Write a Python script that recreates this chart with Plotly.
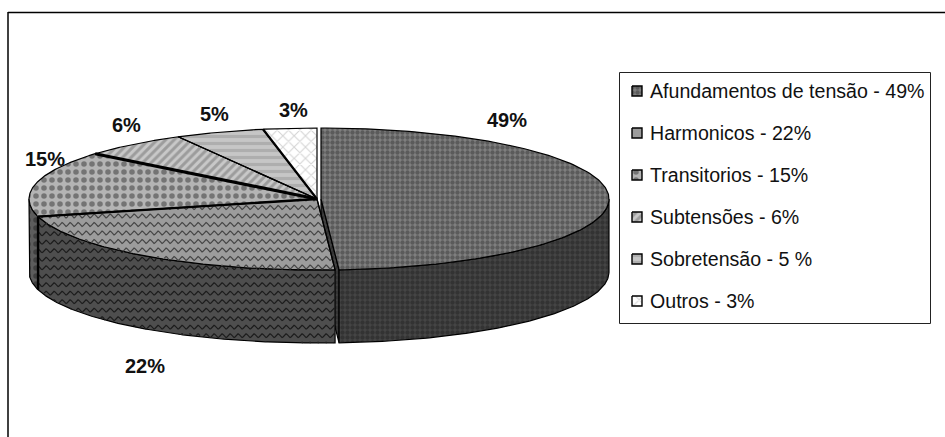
"""Exploded 3D style pie of power quality disturbances, drawn on pixel-like axes."""
import numpy as np
import plotly.graph_objects as go

categories = ["Afundamentos de tensão - 49%", "Harmonicos - 22%", "Transitorios - 15%",
              "Subtensões - 6%", "Sobretensão - 5 %", "Outros - 3%"]
values = [49, 22, 15, 6, 5, 3]
pct_labels = ["49%", "22%", "15%", "6%", "5%", "3%"]

# where Excel left the percentage labels
label_x = [507, 145, 45, 126, 214, 293]
label_y = [120, 366, 159, 125, 114, 110]

# pie geometry
CX, CY = 317, 199
RX, RY = 288, 71
DEPTH = 73
EXPLODE = 4

WIDTH, HEIGHT = 945, 437

# top face pattern, side face colours
top_styles = [
    dict(shape=".", bgcolor="#808080", fgcolor="#363636", size=5, solidity=0.6),
    dict(shape="", bgcolor="#9c9c9c", fgcolor="#9c9c9c"),
    dict(shape=".", bgcolor="#b4b4b4", fgcolor="#333333", size=8, solidity=0.38),
    dict(shape="/", bgcolor="#c8c8c8", fgcolor="#707070", size=6, solidity=0.5),
    dict(shape="-", bgcolor="#c6c6c6", fgcolor="#969696", size=7, solidity=0.45),
    dict(shape="x", bgcolor="#ffffff", fgcolor="#a8a8a8", size=8, solidity=0.25),
]
side_styles = [
    dict(shape=".", bgcolor="#454545", fgcolor="#222222", size=5, solidity=0.6),
    dict(shape="", bgcolor="#4e4e4e", fgcolor="#4e4e4e"),
    dict(shape=".", bgcolor="#5c5c5c", fgcolor="#222222", size=8, solidity=0.38),
]
# spoke widths between neighbouring slices, starting at the 49/22 edge
spoke_widths = [1.2, 2.4, 3.2, 1.2, 2.2]


def rim(t0, t1, dx=0, dy=0):
    t = np.radians(np.linspace(t0, t1, 160))
    return CX + dx + RX * np.sin(t), CY + dy - RY * np.cos(t)


def points_in_poly(px, py, xs, ys):
    x1, y1 = np.roll(xs, -1), np.roll(ys, -1)
    hits = np.zeros(len(px), dtype=int)
    for a, b, c, d in zip(xs, ys, x1, y1):
        if b == d:
            continue
        crosses = (b > py) != (d > py)
        hits += crosses & (px < a + (py - b) * (c - a) / (d - b))
    return hits % 2 == 1


def wave_texture(xs, ys, spacing=8.5, period=8.0, amp=1.9):
    """Wavy hatch lines clipped to a polygon, with gaps outside it."""
    out_x, out_y = [], []
    grid_x = np.arange(xs.min(), xs.max() + 1, 1.0)
    for row in np.arange(ys.min(), ys.max() + spacing, spacing):
        wy = row + amp * np.sin(2 * np.pi * grid_x / period)
        inside = points_in_poly(grid_x, wy, xs, ys)
        out_x.extend(np.where(inside, grid_x, np.nan).tolist() + [None])
        out_y.extend(np.where(inside, wy, np.nan).tolist() + [None])
    return out_x, out_y


def add_poly(fig, xs, ys, pattern, line_width=1.2):
    fig.add_trace(go.Scatter(x=xs, y=ys, mode="lines", fill="toself", fillcolor=pattern["bgcolor"],
                             fillpattern=pattern, line=dict(color="black", width=line_width),
                             hoverinfo="skip", showlegend=False))


def add_waves(fig, xs, ys, color):
    tx, ty = wave_texture(xs, ys)
    fig.add_trace(go.Scatter(x=tx, y=ty, mode="lines", line=dict(color=color, width=1.2),
                             hoverinfo="skip", showlegend=False))


fig = go.Figure()

edges = np.concatenate([[0], np.cumsum(values)]) * 3.6

# side walls first, only what faces the viewer
for i in range(3):
    dx = EXPLODE if i == 0 else 0
    t0, t1 = max(edges[i], 90), min(edges[i + 1], 270)
    x_top, y_top = rim(t0, t1, dx)
    x_bot, y_bot = rim(t1, t0, dx, DEPTH)
    xs = np.concatenate([x_top, x_bot, x_top[:1]])
    ys = np.concatenate([y_top, y_bot, y_top[:1]])
    if i == 0:
        # cut face of the pulled out slice shows through the gap
        x_end, y_end = rim(t1, t1, dx)
        add_poly(fig, [CX + dx, x_end[0], x_end[0], CX + dx, CX + dx],
                 [CY, y_end[0], y_end[0] + DEPTH, CY + DEPTH, CY], side_styles[0])
    add_poly(fig, xs, ys, side_styles[i])
    if i == 1:
        add_waves(fig, xs, ys, "#1c1c1c")

# top faces
for i, style in enumerate(top_styles):
    dx = EXPLODE if i == 0 else 0
    x_rim, y_rim = rim(edges[i], edges[i + 1], dx)
    xs = np.concatenate([[CX + dx], x_rim, [CX + dx]])
    ys = np.concatenate([[CY], y_rim, [CY]])
    add_poly(fig, xs, ys, style)
    if i == 1:
        add_waves(fig, xs, ys, "#454545")

# heavier black spokes between the small slices
for i, lw in enumerate(spoke_widths, start=1):
    x_e, y_e = rim(edges[i], edges[i], 0)
    fig.add_trace(go.Scatter(x=[CX, x_e[0]], y=[CY, y_e[0]], mode="lines",
                             line=dict(color="black", width=lw), hoverinfo="skip", showlegend=False))

# thick seam on the wall between the 22% and 15% slices
x_e, y_e = rim(edges[2], edges[2], 0)
fig.add_trace(go.Scatter(x=[x_e[0], x_e[0]], y=[y_e[0], y_e[0] + DEPTH], mode="lines",
                         line=dict(color="black", width=2.4), hoverinfo="skip", showlegend=False))

for txt, lx, ly in zip(pct_labels, label_x, label_y):
    fig.add_annotation(x=lx, y=ly, text=f"<b>{txt}</b>", showarrow=False,
                       font=dict(family="Liberation Sans", size=20, color="#111111"))

# legend built by hand so the box and spacing follow the original
LEG_Y0, LEG_STEP = 91, 42
for i, (cat, style) in enumerate(zip(categories, top_styles)):
    y = LEG_Y0 + i * LEG_STEP
    add_poly(fig, [632, 642, 642, 632, 632], [y - 5, y - 5, y + 5, y + 5, y - 5], style, line_width=1.4)
    fig.add_annotation(x=647.5, y=y, text=cat, xanchor="left", showarrow=False,
                       font=dict(family="Liberation Sans", size=19.6, color="#111111"))

fig.add_shape(type="rect", x0=619.5, x1=930.5, y0=72.5, y1=323.5, line=dict(color="#222222", width=1),
              layer="below")
# outer chart frame, open on the right and bottom where the picture was cropped
fig.add_shape(type="line", x0=8, x1=945, y0=12.5, y1=12.5, line=dict(color="black", width=1.5))
fig.add_shape(type="line", x0=8, x1=8, y0=12, y1=437, line=dict(color="black", width=1.5))

fig.update_layout(width=WIDTH, height=HEIGHT, margin=dict(l=0, r=0, t=0, b=0), showlegend=False,
                  paper_bgcolor="white", plot_bgcolor="white",
                  xaxis=dict(range=[0, WIDTH], visible=False, fixedrange=True),
                  yaxis=dict(range=[HEIGHT, 0], visible=False, fixedrange=True))

# drop the browser's default body margin so the page lines up with the axes
fig.write_html("out.html", config={"displayModeBar": False},
               post_script="document.body.style.margin='0';")
